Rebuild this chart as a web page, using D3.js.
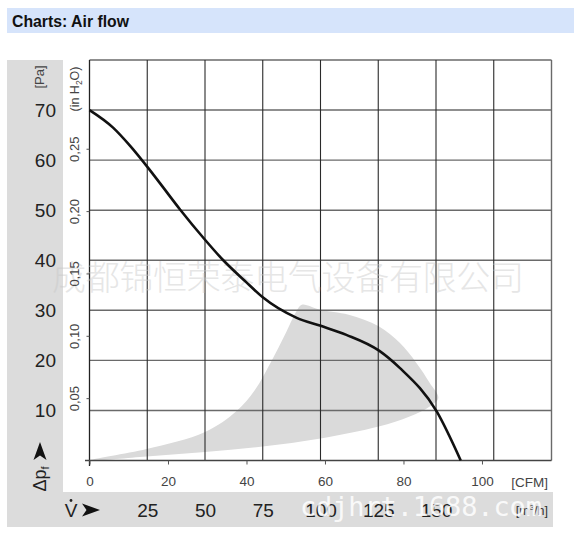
<!DOCTYPE html>
<html>
<head>
<meta charset="utf-8">
<script src="https://cdn.jsdelivr.net/npm/d3@7"></script>
<style>
  body { margin: 0; background: #fff; }
  svg { display: block; font-family: "Liberation Sans", Arial, sans-serif; }
</style>
</head>
<body>
<svg id="chart" width="574" height="543"></svg>
<script>
// air flow in m3/h, pressure in Pa
const curveFlow = [0, 10.2, 17.5, 25.3, 31.8, 39.1, 50.0, 57.7, 67.2, 75.0, 89.7, 100.1, 111.2, 125.5, 134.3, 150.3, 160.7]
const curvePa   = [70, 66.5, 62.9, 58.5, 54.6, 50.2, 44.1, 40.1, 35.9, 32.6, 28.5, 26.9, 25.1, 21.9, 18.5, 9.8, 0]

// working range shading, outer edge then inner edge
const shadeFlow = [0, 24.7, 50, 63.7, 71.6, 78.8, 84.6, 89.6, 91.9, 99.7, 112.2, 125.2, 134.3, 141.5, 147.3, 151,
                   147.3, 138.6, 125.2, 100, 75, 50, 24.7, 0]
const shadePa   = [0, 2.3, 5.7, 9.9, 14.1, 19.9, 25.1, 29.8, 31.1, 30.1, 29.1, 26.8, 23.5, 19.5, 15.5, 12.5,
                   10.8, 8.8, 6.8, 4.4, 2.8, 1.7, 0.8, 0]

const paTicks = [10, 20, 30, 40, 50, 60, 70]
const inchTicks = [0.05, 0.10, 0.15, 0.20, 0.25]
const cfmTicks = [0, 20, 40, 60, 80, 100]
const m3hTicks = [25, 50, 75, 100, 125, 150]
const m3hGrid = [25, 50, 75, 100, 125, 150, 175, 200]
const paGrid = [10, 20, 30, 40, 50, 60, 70, 80]

const svg = d3.select('#chart')

const x = d3.scaleLinear().domain([0, 200]).range([89.5, 551.5])
const xCfm = d3.scaleLinear().domain([0, 200 / 1.699]).range([89.5, 551.5])
const y = d3.scaleLinear().domain([0, 80]).range([460.5, 60])
const yIn = d3.scaleLinear().domain([0, 80 / 249.09]).range([460.5, 60])

// header
svg.append('rect').attr('x', 7).attr('y', 8).attr('width', 567).attr('height', 25).attr('fill', '#d6e4fb')
svg.append('text').attr('x', 12).attr('y', 26.5)
  .attr('textLength', 117).attr('lengthAdjust', 'spacingAndGlyphs')
  .style('font-family', '"Liberation Sans Narrow", "Arial Narrow", sans-serif')
  .style('font-weight', 'bold').style('font-size', '17px').attr('fill', '#111')
  .text('Charts: Air flow')

// background panels
svg.append('rect').attr('x', 7).attr('y', 60).attr('width', 546).attr('height', 467).attr('fill', '#dcdcdc')
svg.append('rect').attr('x', 63).attr('y', 55).attr('width', 491).attr('height', 437).attr('fill', '#fff')

// shaded area
const shadePts = shadeFlow.map((f, i) => [x(f), y(shadePa[i])])
svg.append('path')
  .attr('d', d3.line().curve(d3.curveCatmullRomClosed.alpha(0.5))(shadePts.slice(0, -1)))
  .attr('fill', '#dadada')

// grid
svg.append('g').selectAll('line').data(paGrid).enter().append('line')
  .attr('x1', x(0)).attr('x2', x(200))
  .attr('y1', d => y(d)).attr('y2', d => y(d))
  .attr('stroke', '#6a6a6a').attr('stroke-width', 1.4)
svg.append('g').selectAll('line').data(m3hGrid).enter().append('line')
  .attr('x1', d => x(d)).attr('x2', d => x(d))
  .attr('y1', y(80)).attr('y2', y(0))
  .attr('stroke', d => d == 200 ? '#6a6a6a' : '#2a2a2a').attr('stroke-width', d => d == 200 ? 1.4 : 1.1)

// axis lines
svg.append('line').attr('x1', x(0)).attr('x2', x(0)).attr('y1', y(80)).attr('y2', 466)
  .attr('stroke', '#222').attr('stroke-width', 1.3)
svg.append('line').attr('x1', 85).attr('x2', x(200)).attr('y1', y(0)).attr('y2', y(0))
  .attr('stroke', '#444').attr('stroke-width', 1.4)

// watermark text
svg.append('text').attr('x', 52).attr('y', 290)
  .attr('textLength', 472)
  .style('font-family', '"Noto Sans CJK SC", sans-serif').style('font-size', '34px').style('font-weight', 300)
  .attr('fill', '#c8c8c8').attr('opacity', 0.45)
  .text('成都锦恒荣泰电气设备有限公司')

// curve
svg.append('path')
  .attr('d', d3.line().curve(d3.curveMonotoneX)(curveFlow.map((f, i) => [x(f), y(curvePa[i])])))
  .attr('fill', 'none').attr('stroke', '#111').attr('stroke-width', 2.6)

// Pa axis
const paAxis = svg.append('g').attr('transform', 'translate(56,0)')
  .call(d3.axisLeft(y).tickValues(paTicks).tickSize(0).tickPadding(0))
paAxis.select('.domain').remove()
paAxis.selectAll('text').style('font-size', '19px').attr('fill', '#222')
  .style('font-family', '"Liberation Sans", Arial, sans-serif')

// in H2O axis
const inAxis = svg.append('g').attr('transform', 'translate(' + x(0) + ',0)')
  .call(d3.axisLeft(yIn).tickValues(inchTicks).tickSize(3).tickFormat(d => d3.format('.2f')(d).replace('.', ',')))
inAxis.select('.domain').remove()
inAxis.selectAll('line').attr('stroke', '#555')
inAxis.selectAll('text').attr('x', null).attr('dy', null)
  .attr('transform', 'translate(-11,0) rotate(-90)')
  .attr('text-anchor', 'middle')
  .style('font-size', '13px').attr('fill', '#444')
  .style('font-family', '"Liberation Sans", Arial, sans-serif')

// CFM axis
const cfmAxis = svg.append('g').attr('transform', 'translate(0,' + y(0) + ')')
  .call(d3.axisBottom(xCfm).tickValues(cfmTicks).tickSize(4).tickPadding(12))
cfmAxis.select('.domain').remove()
cfmAxis.selectAll('line').attr('stroke', '#555')
cfmAxis.selectAll('text').style('font-size', '13.5px').attr('fill', '#444')
  .style('font-family', '"Liberation Sans", Arial, sans-serif')

// m3/h axis
const m3Axis = svg.append('g').attr('transform', 'translate(0,510)')
  .call(d3.axisBottom(x).tickValues(m3hTicks).tickSize(0).tickPadding(0))
m3Axis.select('.domain').remove()
m3Axis.selectAll('text').attr('y', 0).attr('dy', '0.36em')
  .style('font-size', '19px').attr('fill', '#222')
  .style('font-family', '"Liberation Sans", Arial, sans-serif')

// unit labels
svg.append('text').attr('x', 548).attr('y', 486.5).attr('text-anchor', 'end')
  .style('font-size', '13.5px').attr('fill', '#444').text('[CFM]')
const m3Label = svg.append('text').attr('x', 548).attr('y', 514.5).attr('text-anchor', 'end')
  .style('font-size', '12.5px').attr('fill', '#333')
m3Label.append('tspan').text('[m')
m3Label.append('tspan').attr('dy', -5).style('font-size', '8px').text('3')
m3Label.append('tspan').attr('dy', 5).text('/h]')

svg.append('text').attr('transform', 'translate(44,77) rotate(-90)').attr('text-anchor', 'middle')
  .style('font-size', '13px').attr('fill', '#444').text('[Pa]')

const inLabel = svg.append('text').attr('transform', 'translate(79,89) rotate(-90)').attr('text-anchor', 'middle')
  .style('font-size', '12.5px').attr('fill', '#444')
inLabel.append('tspan').text('(in H')
inLabel.append('tspan').attr('dy', 3).style('font-size', '8.5px').text('2')
inLabel.append('tspan').attr('dy', -3).text('O)')

// arrows
const arrowShape = 'M0,-6.5L18,0L0,6.5L4.5,0Z'
svg.append('path').attr('d', arrowShape).attr('fill', '#111')
  .attr('transform', 'translate(40,460) rotate(-90)')
svg.append('path').attr('d', arrowShape).attr('fill', '#111')
  .attr('transform', 'translate(82,510)')

const dpLabel = svg.append('text').attr('transform', 'translate(46,479) rotate(-90)').attr('text-anchor', 'middle')
  .style('font-size', '18px').attr('fill', '#222')
dpLabel.append('tspan').text('Δp')
dpLabel.append('tspan').attr('dy', 3).style('font-size', '11px').text('f')

svg.append('text').attr('x', 71).attr('y', 517).attr('text-anchor', 'middle')
  .style('font-size', '19px').attr('fill', '#222').text('V')
svg.append('circle').attr('cx', 71).attr('cy', 500.5).attr('r', 1.4).attr('fill', '#222')

// bottom watermark
svg.append('text').attr('x', 300).attr('y', 516)
  .attr('textLength', 242)
  .style('font-family', '"DejaVu Sans Mono", monospace').style('font-size', '27px')
  .attr('fill', '#fff').attr('opacity', 0.85)
  .text('cdjhrt.1688.com')
</script>
</body>
</html>
